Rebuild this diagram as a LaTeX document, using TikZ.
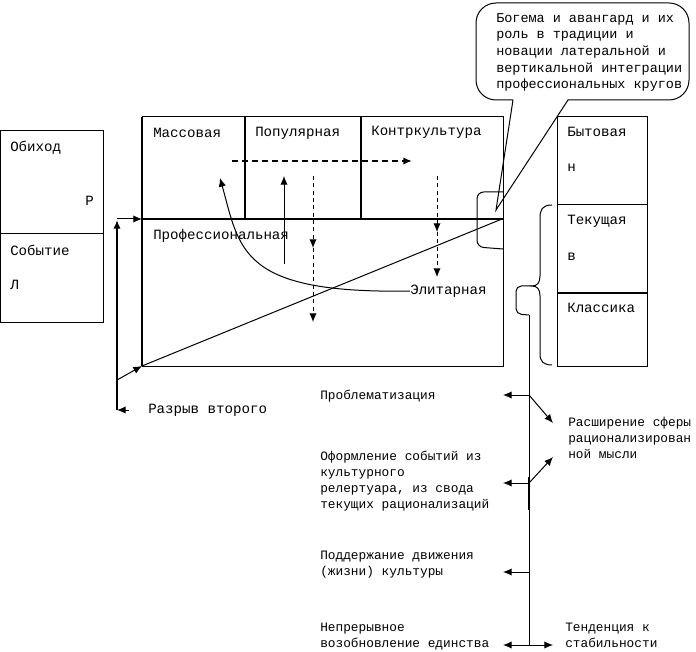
\documentclass[tikz,border=0pt]{standalone}
\usepackage{fontspec}
\setmainfont{Liberation Mono}
\usetikzlibrary{arrows.meta,positioning}

\begin{document}
\begin{tikzpicture}[x=0.75pt,y=-0.75pt,
  cell/.style={line width=0.75pt},
  bold/.style={line width=1.6pt},
  big/.style={inner sep=0pt,anchor=west,font=\fontsize{10.6}{13}\selectfont},
  small/.style={inner sep=0pt,anchor=north west,align=left,font=\fontsize{9.6}{12}\selectfont},
  arr/.style={-{Latex[length=6.5pt,width=5.5pt]},line width=0.75pt},
  boldarr/.style={-{Latex[length=6.5pt,width=5.5pt]},line width=1.6pt},
  dasharr/.style={-{Latex[length=6.5pt,width=5.5pt]},line width=0.75pt,dash pattern=on 3pt off 2.5pt}]
  \useasboundingbox (0,0) rectangle (696,652);

  % left block
  \draw[cell] (0,131) rectangle (103,322);
  \draw[cell] (0,234) -- (103,234);
  \node[big] (obikhod) at (10,148) {Обиход};
  \node[big] (rr) at (85,201) {Р};
  \node[big] (sobytie) at (10,250) {Событие};
  \node[big] (ll) at (10,285) {Л};

  % main block
  \draw[cell] (142,117) rectangle (503,366);
  \draw[bold] (142,117) -- (142,366);
  \draw[bold] (142,219) -- (503,219);
  \draw[bold] (245,117) -- (245,219);
  \draw[bold] (361,117) -- (361,219);
  \node[big] (mass) at (153,133) {Массовая};
  \node[big] (pop) at (255,133) {Популярная};
  \node[big] (kontr) at (371,132) {Контркультура};
  \node[big] (prof) at (153,236) {Профессиональная};
  \node[big] (elit) at (410,291) {Элитарная};

  % right block
  \draw[cell] (557,117) rectangle (647,366);
  \draw[cell] (557,205) -- (647,205);
  \draw[bold] (557,293) -- (647,293);
  \node[big] (byt) at (567,132) {Бытовая};
  \node[big] (nn) at (567,168) {н};
  \node[big] (tek) at (567,221) {Текущая};
  \node[big] (vv) at (567,257) {в};
  \node[big] (klass) at (567,308) {Классика};

  % callout
  \draw[cell] (513,100) -- (496,210) -- (568,100) -- (569,100)
    [rounded corners=15pt] -- (689,100) -- (689,3) -- (476,3) -- (476,100) -- (513,100);
  \node[small,font=\fontsize{10.1}{12.5}\selectfont] (bohema) at (496,13)
    {Богема и авангард и их\\роль в традиции и\\новации латеральной и\\вертикальной интеграции\\профессиональных кругов};
  \draw[cell,rounded corners=5pt] (503,192) -- (477,192) -- (477,247) -- (503,249);

  % inner arrows
  \coordinate (hs) at (232,161);
  \coordinate (he) at (412,161);
  \draw[boldarr,dash pattern=on 4.5pt off 3pt] (hs) -- (he);
  \coordinate (us) at (284,264);
  \coordinate (ue) at (284,176);
  \draw[arr] (us) -- (ue);
  \coordinate (d1a) at (313,176);
  \coordinate (d1b) at (313,248);
  \coordinate (d1c) at (313,322);
  \draw[dasharr] (d1a) -- (d1b);
  \draw[dasharr] (d1b) -- (d1c);
  \coordinate (d2a) at (437,176);
  \coordinate (d2b) at (437,232);
  \coordinate (d2c) at (437,277);
  \draw[dasharr] (d2a) -- (d2b);
  \draw[dasharr] (d2b) -- (d2c);
  \coordinate (mtip) at (220,178);
  \draw[arr] (elit.west) .. controls (240,294) and (240,250) .. (mtip);

  % left connectors
  \coordinate (gapbot) at (117,410);
  \coordinate (gaptop) at (117,220);
  \coordinate (gapend) at (129,410);
  \coordinate (gaplow) at (117,380);
  \coordinate (corner) at (142,366);
  \coordinate (join) at (117,219);
  \coordinate (profw) at (142,219);
  \coordinate (right) at (502,219);
  \draw[boldarr] (gapbot) -- (gaptop);
  \draw[arr] (join) -- (profw);
  \draw[arr] (gapend) -- (gapbot);
  \draw[arr] (gaplow) -- (corner);
  \draw[cell] (corner) -- (right);
  \node[big] (razryv) at (148,410) {Разрыв второго};

  % brace and spine
  \draw[cell] (552,205) .. controls (542,205) and (540,210) .. (540,218) -- (540,276)
    .. controls (540,283) and (537,286) .. (532,286)
    .. controls (537,286) and (540,289) .. (540,296) -- (540,354)
    .. controls (540,362) and (544,365) .. (552,365);
  \coordinate (sp0) at (529,315);
  \coordinate (sp1) at (529,395);
  \coordinate (sp2) at (529,483);
  \coordinate (sp3) at (529,572);
  \coordinate (sp4) at (529,645);
  \draw[cell,rounded corners=4pt] (532,286) -- (516,286) -- (516,314) -- (sp0);
  \draw[cell] (sp0) -- (sp4);
  \draw[bold] (529,477) -- (529,510);

  \node[small] (probl) at (320,390) {Проблематизация};
  \node[small] (oform) at (320,451) {Оформление событий из\\культурного\\релертуара, из свода\\текущих рационализаций};
  \node[small] (podd) at (320,551) {Поддержание движения\\(жизни) культуры};
  \node[small] (nepr) at (320,623) {Непрерывное\\возобновление единства};
  \node[small] (rassh) at (568,417) {Расширение сферы\\рационализирован\\ной мысли};
  \node[small] (tend) at (565,623) {Тенденция к\\стабильности};

  \coordinate (t1) at (503,395);
  \coordinate (t2) at (503,483);
  \coordinate (t3) at (503,572);
  \coordinate (t4) at (503,645);
  \coordinate (r1) at (553,423);
  \coordinate (r2) at (553,457);
  \coordinate (r4) at (553,645);
  \draw[arr] (sp1) -- (t1);
  \draw[arr] (sp1) -- (r1);
  \draw[arr] (sp2) -- (t2);
  \draw[arr] (sp2) -- (r2);
  \draw[arr] (sp3) -- (t3);
  \draw[arr] (sp4) -- (t4);
  \draw[arr] (sp4) -- (r4);
\end{tikzpicture}
\end{document}
